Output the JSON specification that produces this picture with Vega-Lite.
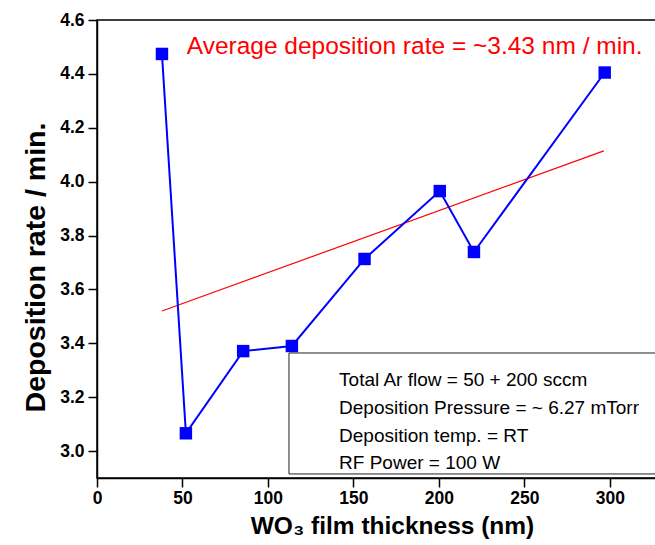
{
  "$schema": "https://vega.github.io/schema/vega-lite/v6.json",
  "width": 559,
  "height": 458,
  "autosize": {"type": "none"},
  "padding": {"left": 97, "top": 20, "right": 0, "bottom": 67},
  "background": "white",
  "config": {
    "view": {"stroke": "black", "strokeWidth": 1.5},
    "font": "Liberation Sans",
    "axis": {"domainColor": "black", "domainWidth": 1.5, "tickColor": "black", "tickWidth": 1.5, "grid": false, "labelOverlap": false, "labelFont": "Liberation Sans", "labelFontWeight": "bold", "labelFontSize": 17.5, "labelColor": "black", "titleFont": "Liberation Sans", "titleFontWeight": "bold", "titleFontSize": 24.5, "titleColor": "black"}
  },
  "datasets": {
    "points": [
      {"thickness": 38, "rate": 4.474},
      {"thickness": 52, "rate": 3.066},
      {"thickness": 85.5, "rate": 3.371},
      {"thickness": 114, "rate": 3.39},
      {"thickness": 156.5, "rate": 3.713},
      {"thickness": 200.5, "rate": 3.965},
      {"thickness": 220.5, "rate": 3.739},
      {"thickness": 297, "rate": 4.405}
    ],
    "fit": [
      {"thickness": 38, "rate": 3.52},
      {"thickness": 296.5, "rate": 4.114}
    ]
  },
  "layer": [
    {
      "data": {"name": "fit"},
      "mark": {"type": "line", "color": "red", "strokeWidth": 1.2, "clip": true},
      "encoding": {
        "x": {"field": "thickness", "type": "quantitative", "scale": {"domain": [0, 327], "nice": false, "zero": false},
          "axis": {"orient": "bottom", "title": "WO₃ film thickness (nm)", "values": [0,50,100,150,200,250,300],
            "tickSize": 9, "labelPadding": 2, "titlePadding": 8, "titleX": 295, "labelFlush": false, "labelOverlap": false}},
        "y": {"field": "rate", "type": "quantitative", "scale": {"domain": [2.9, 4.6], "nice": false, "zero": false},
          "axis": {"orient": "left", "title": "Deposition rate / min.", "titleFontSize": 28.5, "titleY": 247, "values": [3.0,3.2,3.4,3.6,3.8,4.0,4.2,4.4,4.6],
            "format": ".1f", "tickSize": 9, "labelPadding": 4, "titlePadding": 9, "labelFlush": false, "labelOverlap": false}}
      }
    },
    {
      "data": {"name": "points"},
      "mark": {"type": "line", "color": "#0000ff", "strokeWidth": 2},
      "encoding": {
        "x": {"field": "thickness", "type": "quantitative"},
        "y": {"field": "rate", "type": "quantitative"}
      }
    },
    {
      "data": {"name": "points"},
      "mark": {"type": "point", "shape": "square", "filled": true, "color": "#0000ff", "size": 155, "opacity": 1},
      "encoding": {
        "x": {"field": "thickness", "type": "quantitative"},
        "y": {"field": "rate", "type": "quantitative"}
      }
    },
    {
      "data": {"values": [{}]},
      "mark": {"type": "rect", "fill": "white", "stroke": "#222222", "strokeWidth": 1, "clip": true},
      "encoding": {
        "x": {"datum": 112.3, "type": "quantitative"},
        "x2": {"datum": 340},
        "y": {"datum": 3.364, "type": "quantitative"},
        "y2": {"datum": 2.915}
      }
    },
    {
      "data": {"values": [{}]},
      "mark": {"type": "text", "align": "left", "baseline": "middle", "fontSize": 19, "font": "Liberation Sans", "color": "black", "text": "Total Ar flow = 50 + 200 sccm"},
      "encoding": {"x": {"datum": 141.6, "type": "quantitative"}, "y": {"datum": 3.264, "type": "quantitative"}}
    },
    {
      "data": {"values": [{}]},
      "mark": {"type": "text", "align": "left", "baseline": "middle", "fontSize": 19, "font": "Liberation Sans", "color": "black", "text": "Deposition Pressure = ~ 6.27 mTorr"},
      "encoding": {"x": {"datum": 141.6, "type": "quantitative"}, "y": {"datum": 3.160, "type": "quantitative"}}
    },
    {
      "data": {"values": [{}]},
      "mark": {"type": "text", "align": "left", "baseline": "middle", "fontSize": 19, "font": "Liberation Sans", "color": "black", "text": "Deposition temp. = RT"},
      "encoding": {"x": {"datum": 141.6, "type": "quantitative"}, "y": {"datum": 3.056, "type": "quantitative"}}
    },
    {
      "data": {"values": [{}]},
      "mark": {"type": "text", "align": "left", "baseline": "middle", "fontSize": 19, "font": "Liberation Sans", "color": "black", "text": "RF Power = 100 W"},
      "encoding": {"x": {"datum": 141.6, "type": "quantitative"}, "y": {"datum": 2.956, "type": "quantitative"}}
    },
    {
      "data": {"values": [{}]},
      "mark": {"type": "text", "align": "left", "baseline": "middle", "fontSize": 24.5, "font": "Liberation Sans", "color": "red", "text": "Average deposition rate = ~3.43 nm / min."},
      "encoding": {"x": {"datum": 52.5, "type": "quantitative"}, "y": {"datum": 4.5, "type": "quantitative"}}
    }
  ]
}
